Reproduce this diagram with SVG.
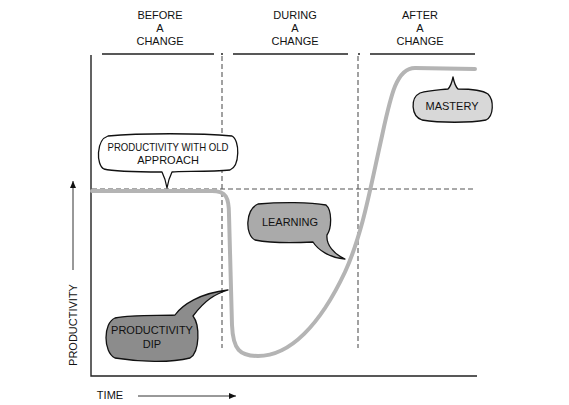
<svg xmlns="http://www.w3.org/2000/svg" width="569" height="405" viewBox="0 0 569 405">
<style>
.t{font-family:"Liberation Sans","DejaVu Sans",sans-serif;font-size:11px;fill:#111;text-anchor:middle}
.ax{stroke:#222;stroke-width:1.4;fill:none}
.dash{stroke:#555;stroke-width:1.1;stroke-dasharray:5 3;fill:none}
.bub{stroke:#111;stroke-width:1.3;stroke-linejoin:round}
</style>
<defs>
<marker id="ah" markerWidth="8" markerHeight="8" refX="7" refY="4" orient="auto" markerUnits="userSpaceOnUse">
<path d="M0,1 L7,4 L0,7 Z" fill="#111"/>
</marker>
</defs>
<rect width="569" height="405" fill="#fff"/>
<g id="headers">
<text class="t" x="160" y="19">BEFORE</text>
<text class="t" x="160" y="32">A</text>
<text class="t" x="160" y="45">CHANGE</text>
<text class="t" x="295" y="19">DURING</text>
<text class="t" x="295" y="32">A</text>
<text class="t" x="295" y="45">CHANGE</text>
<text class="t" x="420" y="19">AFTER</text>
<text class="t" x="420" y="32">A</text>
<text class="t" x="420" y="45">CHANGE</text>
</g>
<g id="axes">
<path class="ax" d="M102,54 L214,54 M233,54 L348,54 M370,54 L475,54"/>
<path class="ax" d="M221,54 L223,54 M358,54 L360,54"/>
<path class="ax" d="M91,55 L91,376 L477,376"/>
<path class="dash" d="M222,56 L222,348 M358,56 L358,348"/>
<path class="dash" d="M92,189 L475,189"/>
<text class="t" x="110" y="399" font-size="12">TIME</text>
<path d="M138,396 L236,396" stroke="#333" stroke-width="1" marker-end="url(#ah)"/>
<text class="t" x="0" y="0" font-size="12" transform="translate(77,325) rotate(-90)">PRODUCTIVITY</text>
<path d="M73,270 L73,181" stroke="#333" stroke-width="1" marker-end="url(#ah)"/>
</g>
<g id="curve">
<path d="M92,191 L212,191 C226,191 229,197 229,215 L232,325 C233,350 240,356 258,356 C290,356 320,325 345,272 C362,235 370,190 380,145 C390,100 395,68 415,68 L475,69" fill="none" stroke="#b4b4b4" stroke-width="4" stroke-linecap="round" stroke-linejoin="round"/>
</g>
<g id="old-approach">
<path class="bub" fill="#fff" d="M108,136 C140,133 200,133 232,136 C240,140 240,166 230,170 C210,172 180,171 172,172 C170,176 168,182 167,188 C166,182 164,176 162,172 C140,172 115,172 104,169 C96,165 96,140 108,136 Z"/>
<text class="t" x="168" y="151" textLength="121" lengthAdjust="spacingAndGlyphs">PRODUCTIVITY WITH OLD</text>
<text class="t" x="168" y="164">APPROACH</text>
</g>
<g id="learning">
<path class="bub" fill="#aaaaaa" d="M258,204 C280,202 310,202 326,205 C332,210 332,228 327,235 C326,245 334,254 345,259 C330,258 318,250 313,242 C295,243 270,243 255,240 C245,235 245,210 258,204 Z"/>
<text class="t" x="290" y="226">LEARNING</text>
</g>
<g id="dip">
<path class="bub" fill="#8c8c8c" d="M115,318 C135,314 160,316 175,315 C182,305 200,293 228,290 C215,294 205,300 193,316 C200,325 200,352 190,358 C170,363 140,362 115,358 C103,352 103,323 115,318 Z"/>
<text class="t" x="152" y="334">PRODUCTIVITY</text>
<text class="t" x="152" y="348">DIP</text>
</g>
<g id="mastery">
<path class="bub" fill="#d8d8d8" d="M420,93 C430,90 440,90 448,89 C451,86 452,82 453,77 C454,82 455,86 458,89 C470,89 482,90 488,94 C494,100 494,116 486,120 C470,123 440,123 422,120 C411,116 410,98 420,93 Z"/>
<text class="t" x="452" y="110">MASTERY</text>
</g>
</svg>
